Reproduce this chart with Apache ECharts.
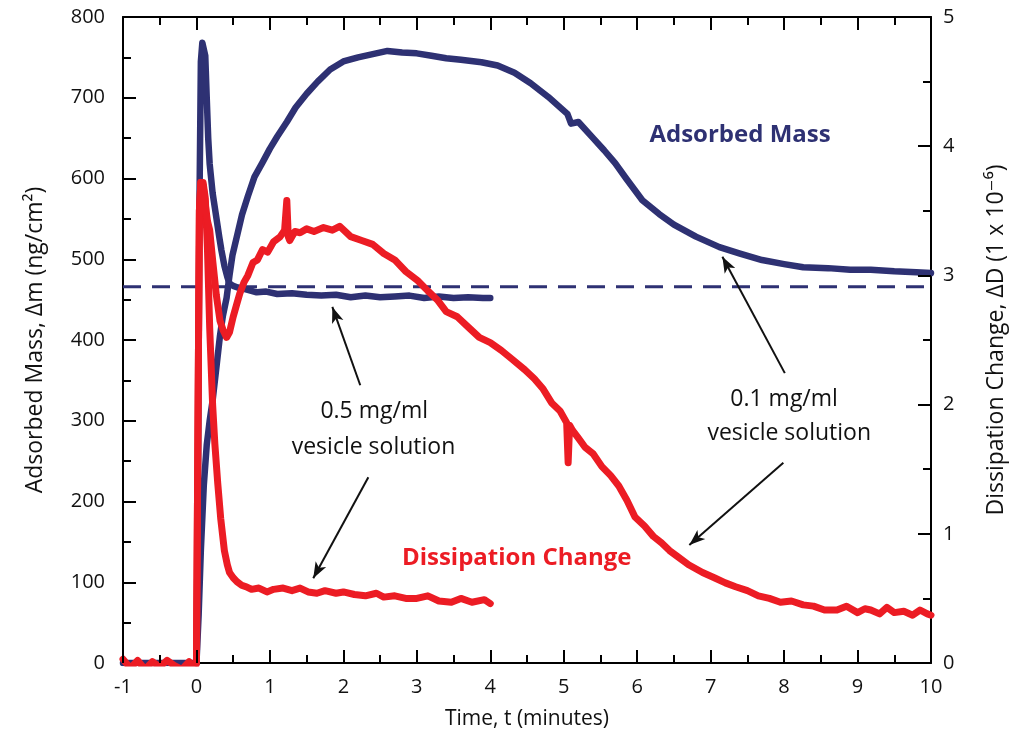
<!DOCTYPE html>
<html>
<head>
<meta charset="utf-8">
<title>Vesicle adsorption</title>
<script src="https://cdn.jsdelivr.net/npm/echarts@6/dist/echarts.min.js"></script>
<style>
  html, body { margin: 0; padding: 0; background: #fff; }
  #chart { width: 1022px; height: 738px; }
</style>
</head>
<body>
<div id="chart"></div>
<script>
// [time (min), mass (ng/cm2)]
const mass05 = [
  [-1, 0], [-0.5, 0], [0, 0], [0.02, 200], [0.04, 560], [0.06, 745], [0.08, 768], [0.1, 766],
  [0.12, 752], [0.14, 700], [0.16, 650], [0.18, 618], [0.22, 582], [0.27, 552], [0.31, 528],
  [0.34, 511], [0.38, 492], [0.42, 478], [0.45, 470], [0.5, 467], [0.56, 465], [0.62, 464],
  [0.7, 462], [0.82, 459], [0.95, 460], [1.1, 457], [1.3, 458], [1.5, 456], [1.7, 455],
  [1.9, 456], [2.1, 453], [2.3, 455], [2.5, 453], [2.7, 454], [2.9, 455], [3.1, 452],
  [3.3, 454], [3.5, 452], [3.7, 453], [3.9, 452], [4.0, 452]
];
const mass01 = [
  [0, 0], [0.03, 60], [0.06, 140], [0.1, 220], [0.14, 270], [0.18, 300], [0.22, 325],
  [0.27, 365], [0.32, 405], [0.36, 430], [0.41, 452], [0.45, 480], [0.49, 505], [0.56, 532],
  [0.62, 555], [0.7, 578], [0.79, 602], [0.9, 620], [1.0, 637], [1.1, 652], [1.23, 670],
  [1.35, 688], [1.5, 705], [1.65, 720], [1.82, 735], [2.0, 745], [2.2, 750], [2.4, 754],
  [2.6, 758], [2.8, 756], [3.0, 755], [3.2, 752], [3.4, 749], [3.6, 747], [3.88, 744],
  [4.1, 740], [4.33, 731], [4.55, 718], [4.79, 701], [4.95, 688], [5.05, 680], [5.1, 668],
  [5.2, 670], [5.4, 650], [5.55, 635], [5.7, 619], [5.85, 600], [6.07, 573], [6.3, 556],
  [6.5, 543], [6.8, 528], [7.12, 515], [7.4, 507], [7.7, 499], [8.0, 494], [8.26, 490],
  [8.6, 489], [8.9, 487], [9.18, 487], [9.5, 485], [9.8, 484], [10.0, 483]
];
// [time (min), dissipation (1e-6)]
const diss05 = [
  [-1, 0.03], [-0.9, -0.04], [-0.8, 0.02], [-0.7, -0.05], [-0.6, 0.01], [-0.5, -0.03],
  [-0.4, 0.02], [-0.3, -0.02], [-0.2, -0.05], [-0.1, 0.01], [-0.02, -0.04], [0, 0],
  [0.02, 1.8], [0.04, 3.5], [0.06, 3.72], [0.09, 3.72], [0.12, 3.6], [0.15, 3.2], [0.18, 2.6],
  [0.22, 2.0], [0.25, 1.7], [0.29, 1.39], [0.33, 1.12], [0.38, 0.87], [0.42, 0.76], [0.45, 0.70],
  [0.5, 0.66], [0.55, 0.63], [0.62, 0.60], [0.68, 0.59], [0.75, 0.57], [0.85, 0.58], [0.96, 0.55],
  [1.05, 0.57], [1.18, 0.58], [1.3, 0.56], [1.41, 0.58], [1.52, 0.55], [1.64, 0.54], [1.75, 0.56],
  [1.9, 0.54], [2.0, 0.55], [2.15, 0.53], [2.3, 0.52], [2.45, 0.54], [2.55, 0.51], [2.7, 0.52],
  [2.85, 0.50], [3.0, 0.50], [3.15, 0.52], [3.3, 0.48], [3.47, 0.47], [3.6, 0.50], [3.75, 0.47],
  [3.92, 0.49], [4.0, 0.46]
];
const diss01 = [
  [0, 0], [0.02, 1.8], [0.04, 3.5], [0.06, 3.72], [0.09, 3.7], [0.12, 3.55], [0.15, 3.42],
  [0.18, 3.35], [0.22, 3.12], [0.27, 2.85], [0.32, 2.65], [0.36, 2.58], [0.41, 2.52], [0.45, 2.56],
  [0.5, 2.68], [0.55, 2.78], [0.59, 2.86], [0.65, 2.95], [0.7, 3.0], [0.77, 3.1], [0.83, 3.12],
  [0.9, 3.2], [0.97, 3.18], [1.05, 3.26], [1.14, 3.3], [1.2, 3.35], [1.23, 3.58], [1.25, 3.3],
  [1.27, 3.27], [1.34, 3.34], [1.41, 3.33], [1.5, 3.36], [1.6, 3.34], [1.73, 3.37], [1.85, 3.35],
  [1.95, 3.38], [2.1, 3.3], [2.25, 3.27], [2.4, 3.24], [2.55, 3.17], [2.7, 3.12], [2.85, 3.03],
  [3.01, 2.96], [3.15, 2.88], [3.28, 2.81], [3.4, 2.72], [3.55, 2.68], [3.7, 2.60], [3.85, 2.52],
  [4.0, 2.48], [4.15, 2.42], [4.3, 2.35], [4.47, 2.27], [4.6, 2.2], [4.72, 2.12], [4.84, 2.01],
  [4.95, 1.95], [5.04, 1.86], [5.06, 1.55], [5.08, 1.84], [5.12, 1.8], [5.2, 1.74], [5.29, 1.67],
  [5.4, 1.62], [5.52, 1.52], [5.64, 1.45], [5.75, 1.37], [5.86, 1.26], [5.97, 1.13], [6.1, 1.06],
  [6.22, 0.98], [6.33, 0.93], [6.44, 0.87], [6.56, 0.82], [6.7, 0.76], [6.89, 0.70], [7.05, 0.66],
  [7.2, 0.62], [7.34, 0.59], [7.5, 0.56], [7.65, 0.52], [7.8, 0.50], [7.95, 0.47], [8.1, 0.48],
  [8.26, 0.45], [8.4, 0.44], [8.55, 0.41], [8.72, 0.41], [8.85, 0.44], [9.0, 0.39], [9.1, 0.42],
  [9.18, 0.41], [9.3, 0.38], [9.4, 0.43], [9.5, 0.39], [9.63, 0.40], [9.75, 0.37], [9.85, 0.41],
  [9.95, 0.38], [10.0, 0.37]
];
const rinseLevel = 466;
const xTicks = { min: -1, max: 10, step: 1 };
const massTicks = { min: 0, max: 800, step: 100 };
const dissTicks = { min: 0, max: 5, step: 1 };

// annotations, in (time, mass) coordinates
const notes = [
  { name: 'Adsorbed Mass', value: [7.4, 654], color: '#2e3173', bold: true },
  { name: 'Dissipation Change', value: [4.36, 130], color: '#ec1c24', bold: true },
  { name: '0.5 mg/ml', value: [2.42, 311] },
  { name: 'vesicle solution', value: [2.41, 267] },
  { name: '0.1 mg/ml', value: [8.0, 326] },
  { name: 'vesicle solution', value: [8.07, 284] }
];
const arrows = [
  [[2.23, 344], [1.85, 441]],
  [[2.34, 230], [1.59, 105]],
  [[8.01, 359], [7.16, 503]],
  [[7.99, 248], [6.71, 146]]
];

const BLUE = '#2e3173';
const RED = '#ec1c24';
const INK = '#111';
const FONT = '"Open Sans", "DejaVu Sans", sans-serif';

const GRID = { left: 123, right: 91, top: 17, bottom: 75 };
const W = 1022, H = 738;
// pixels per data unit, used only to size the inward frame ticks
const pxPerMin = (W - GRID.left - GRID.right) / (xTicks.max - xTicks.min);
const pxPerMass = (H - GRID.top - GRID.bottom) / (massTicks.max - massTicks.min);
const massPerDiss = (massTicks.max - massTicks.min) / (dissTicks.max - dissTicks.min);
const MAJOR = 13, MINOR = 8;

// inward frame ticks as segments in (time, mass) coordinates
const frameTicks = [];
function seg(a, b) {
  frameTicks.push([
    { coord: a, symbol: 'none' },
    { coord: b, symbol: 'none', lineStyle: { color: '#000', width: 2, type: 'solid' } }
  ]);
}
for (let i = 0; i <= (xTicks.max - xTicks.min) * 2; i++) {
  const x = xTicks.min + i / 2;
  const len = (i % 2 ? MINOR : MAJOR) / pxPerMass;
  seg([x, massTicks.min], [x, massTicks.min + len]);
  seg([x, massTicks.max], [x, massTicks.max - len]);
}
for (let i = 1; i < (massTicks.max - massTicks.min) / 50; i++) {
  const y = massTicks.min + i * 50;
  seg([xTicks.min, y], [xTicks.min + (i % 2 ? MINOR : MAJOR) / pxPerMin, y]);
}
for (let i = 1; i < (dissTicks.max - dissTicks.min) * 2; i++) {
  const y = (dissTicks.min + i / 2) * massPerDiss;
  seg([xTicks.max, y], [xTicks.max - (i % 2 ? MINOR : MAJOR) / pxPerMin, y]);
}

const chart = echarts.init(document.getElementById('chart'));

function frame(extra) {
  return Object.assign({
    axisLine: { show: true, onZero: false, lineStyle: { color: '#000', width: 2 } },
    axisTick: { show: false },
    minorTick: { show: false },
    splitLine: { show: false }
  }, extra);
}

const option = {
  animation: false,
  backgroundColor: '#fff',
  grid: GRID,
  xAxis: [
    frame({
      type: 'value', position: 'bottom',
      min: xTicks.min, max: xTicks.max, interval: xTicks.step,
      axisLabel: { fontSize: 20, color: INK, margin: 14, fontFamily: FONT },
      name: 'Time, t (minutes)', nameLocation: 'middle', nameGap: 46,
      nameTextStyle: { fontSize: 21, color: INK, fontFamily: FONT }
    }),
    frame({
      type: 'value', position: 'top',
      min: xTicks.min, max: xTicks.max, interval: xTicks.step,
      axisLabel: { show: false }
    })
  ],
  yAxis: [
    frame({
      type: 'value', position: 'left',
      min: massTicks.min, max: massTicks.max, interval: massTicks.step,
      axisLabel: { fontSize: 20, color: INK, margin: 18, fontFamily: FONT },
      name: 'Adsorbed Mass, \u0394m (ng/cm\u00b2)', nameLocation: 'middle', nameGap: 76, nameRotate: 90,
      nameTextStyle: { fontSize: 23, color: INK, fontFamily: FONT }
    }),
    frame({
      type: 'value', position: 'right',
      min: dissTicks.min, max: dissTicks.max, interval: dissTicks.step,
      axisLabel: { fontSize: 20, color: INK, margin: 12, fontFamily: FONT },
      name: 'Dissipation Change, \u0394D (1 x 10\u207b\u2076)', nameLocation: 'middle', nameGap: 54, nameRotate: 90,
      nameTextStyle: { fontSize: 23, color: INK, fontFamily: FONT }
    })
  ],
  series: [
    {
      name: 'rinse level', type: 'line', showSymbol: false, silent: true,
      data: [[xTicks.min, rinseLevel], [xTicks.max, rinseLevel]],
      lineStyle: { color: BLUE, width: 3, type: [18, 11] }
    },
    {
      name: 'mass 0.5', type: 'line', showSymbol: false, data: mass05,
      lineStyle: { color: BLUE, width: 6.5, cap: 'round', join: 'round' }
    },
    {
      name: 'mass 0.1', type: 'line', showSymbol: false, data: mass01,
      lineStyle: { color: BLUE, width: 6.5, cap: 'round', join: 'round' }
    },
    {
      name: 'diss 0.5', type: 'line', yAxisIndex: 1, showSymbol: false, data: diss05,
      lineStyle: { color: RED, width: 7, cap: 'round', join: 'round' }
    },
    {
      name: 'diss 0.1', type: 'line', yAxisIndex: 1, showSymbol: false, data: diss01,
      lineStyle: { color: RED, width: 7, cap: 'round', join: 'round' }
    },
    {
      name: 'notes', type: 'scatter', symbolSize: 0, silent: true,
      itemStyle: { opacity: 1 },
      data: notes.map(n => ({
        name: n.name, value: n.value,
        label: {
          show: true, position: 'inside', formatter: '{b}',
          fontSize: n.bold ? 24 : 23, fontFamily: FONT,
          fontWeight: n.bold ? 'bold' : 'normal',
          color: n.color || INK
        }
      })),
      markLine: {
        silent: true, animation: false,
        symbol: ['none', 'arrow'], symbolSize: [9, 16],
        label: { show: false },
        lineStyle: { color: INK, width: 2, type: 'solid', opacity: 1 },
        data: arrows.map(a => [{ coord: a[0] }, { coord: a[1] }]).concat(frameTicks)
      }
    }
  ]
};

chart.setOption(option);
</script>
</body>
</html>
